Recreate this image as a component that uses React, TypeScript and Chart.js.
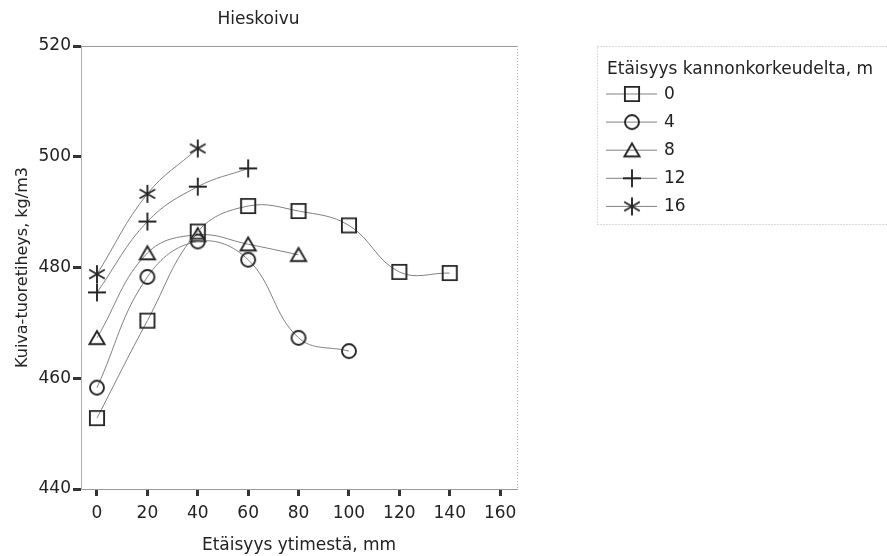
import React, { useEffect, useRef } from 'react';
import { Chart, registerables } from 'chart.js';

Chart.register(...registerables);

// ---- data ----
const chartTitle = 'Hieskoivu';
const xAxisTitle = 'Etäisyys ytimestä, mm';
const yAxisTitle = 'Kuiva-tuoretiheys, kg/m3';
const legendTitle = 'Etäisyys kannonkorkeudelta, m';
const seriesLabels = ['0', '4', '8', '12', '16'];
const distances = [0, 20, 40, 60, 80, 100, 120, 140];
const density0 = [452.8, 470.4, 486.5, 491.1, 490.2, 487.6, 479.2, 479.0];
const density4 = [458.3, 478.3, 484.7, 481.4, 467.3, 464.9];
const density8 = [467.3, 482.6, 485.9, 484.2, 482.3];
const density12 = [475.5, 488.3, 494.6, 497.9];
const density16 = [478.8, 493.3, 501.5];
const xTicks = [0, 20, 40, 60, 80, 100, 120, 140, 160];
const yTicks = [440, 460, 480, 500, 520];
const markerKinds = ['square', 'circle', 'triangle', 'plus', 'star'];

// ---- styles ----
const FONT = 'DejaVu Sans';
const TEXT = '#222222';
const LINE = '#808080';
const MARK = '#262626';

function makeMarker(kind: string): HTMLCanvasElement {
  const c = document.createElement('canvas');
  c.width = 22;
  c.height = 22;
  const g = c.getContext('2d')!;
  const m = 11;
  g.strokeStyle = MARK;
  g.lineWidth = 1.9;
  g.beginPath();
  if (kind === 'square') {
    g.rect(m - 7.1, m - 7.1, 14.2, 14.2);
  } else if (kind === 'circle') {
    g.arc(m, m, 7.0, 0, Math.PI * 2);
  } else if (kind === 'triangle') {
    g.moveTo(m, m - 6.8);
    g.lineTo(m + 7.6, m + 6.3);
    g.lineTo(m - 7.6, m + 6.3);
    g.closePath();
  } else if (kind === 'plus') {
    g.moveTo(m - 9, m);
    g.lineTo(m + 9, m);
    g.moveTo(m, m - 9);
    g.lineTo(m, m + 9);
  } else if (kind === 'star') {
    g.moveTo(m, m - 9);
    g.lineTo(m, m + 9);
    for (const a of [Math.PI / 6, -Math.PI / 6]) {
      const dx = Math.cos(a) * 9;
      const dy = Math.sin(a) * 9;
      g.moveTo(m - dx, m - dy);
      g.lineTo(m + dx, m + dy);
    }
  }
  g.stroke();
  return c;
}

export default function App() {
  const ref = useRef<HTMLCanvasElement>(null);

  useEffect(() => {
    const canvas = ref.current!;
    const markers = markerKinds.map(makeMarker);
    const seriesValues = [density0, density4, density8, density12, density16];

    const datasets = seriesValues.map((vals, i) => ({
      label: seriesLabels[i],
      data: vals.map((v, j) => ({ x: distances[j], y: v })),
      borderColor: LINE,
      borderWidth: 1,
      tension: 0.4,
      fill: false,
      pointStyle: markers[i] as any,
      pointRadius: 8,
      pointHoverRadius: 8,
      pointBackgroundColor: 'rgba(0,0,0,0)',
      pointBorderColor: MARK,
    }));

    const framePlugin = {
      id: 'frame',
      afterDraw(chart: any) {
        const { ctx, chartArea: a } = chart;
        ctx.save();
        ctx.lineWidth = 1;
        ctx.strokeStyle = '#9a9a9a';
        ctx.beginPath();
        ctx.moveTo(a.left, a.top + 0.5);
        ctx.lineTo(a.right, a.top + 0.5);
        ctx.stroke();
        ctx.strokeStyle = '#b0b0b0';
        ctx.setLineDash([1, 2]);
        ctx.beginPath();
        ctx.moveTo(a.right + 0.5, a.top);
        ctx.lineTo(a.right + 0.5, a.bottom);
        ctx.stroke();
        ctx.restore();
      },
    };

    const legendPlugin = {
      id: 'customLegend',
      afterDraw(chart: any) {
        const ctx = chart.ctx;
        ctx.save();
        ctx.strokeStyle = '#b5b5b5';
        ctx.lineWidth = 1;
        ctx.setLineDash([1, 2]);
        ctx.strokeRect(597.5, 46.5, 300, 178);
        ctx.setLineDash([]);
        ctx.fillStyle = TEXT;
        ctx.font = `17px "${FONT}"`;
        ctx.textBaseline = 'middle';
        ctx.textAlign = 'left';
        ctx.fillText(legendTitle, 607, 70);
        chart.data.datasets.forEach((ds: any, i: number) => {
          const y = 94 + i * 28.1;
          ctx.strokeStyle = LINE;
          ctx.lineWidth = 1;
          ctx.beginPath();
          ctx.moveTo(606, y);
          ctx.lineTo(657, y);
          ctx.stroke();
          const mk = markers[i];
          ctx.drawImage(mk, 632 - mk.width / 2, y - mk.height / 2);
          ctx.fillStyle = TEXT;
          ctx.fillText(ds.label, 664, y + 0.5);
        });
        ctx.restore();
      },
    };

    const tickFont = { family: FONT, size: 17 };

    const chart = new Chart(canvas, {
      type: 'line',
      data: { datasets: datasets as any },
      options: {
        animation: false,
        responsive: false,
        devicePixelRatio: 1,
        layout: { padding: { top: 0, right: 370, left: 0, bottom: 0 } },
        plugins: {
          legend: { display: false },
          tooltip: { enabled: false },
          title: {
            display: true,
            text: chartTitle,
            color: TEXT,
            font: { family: FONT, size: 17, weight: 'normal' },
            padding: { top: 9.5, bottom: 16.1 },
          },
        },
        scales: {
          x: {
            type: 'linear',
            position: 'bottom',
            min: -6.35,
            max: 166.7,
            afterBuildTicks: (s: any) => {
              s.ticks = xTicks.map((v) => ({ value: v }));
            },
            afterFit: (s: any) => {
              s.height = 67;
            },
            grid: {
              drawOnChartArea: false,
              drawTicks: true,
              tickLength: 7,
              tickWidth: 3,
              tickColor: '#333',
            },
            border: { display: true, color: '#9a9a9a', width: 1 },
            ticks: {
              font: tickFont,
              color: TEXT,
              padding: 7,
              maxRotation: 0,
              autoSkip: false,
            },
            title: {
              display: true,
              text: xAxisTitle,
              color: TEXT,
              font: tickFont,
              padding: { top: 0, bottom: 0 },
            },
          },
          y: {
            type: 'linear',
            min: 440,
            max: 520,
            afterBuildTicks: (s: any) => {
              s.ticks = yTicks.map((v) => ({ value: v }));
            },
            afterFit: (s: any) => {
              s.width = 81;
            },
            grid: {
              drawOnChartArea: false,
              drawTicks: true,
              tickLength: 8,
              tickWidth: 3,
              tickColor: '#333',
            },
            border: { display: true, color: '#b0b0b0', width: 1, dash: [1, 2] },
            ticks: {
              font: tickFont,
              color: TEXT,
              padding: 2,
              autoSkip: false,
            },
            title: {
              display: true,
              text: yAxisTitle,
              color: TEXT,
              font: { family: FONT, size: 16 },
              padding: { top: 13, bottom: 0 },
            },
          },
        },
      } as any,
      plugins: [framePlugin, legendPlugin],
    });

    return () => chart.destroy();
  }, []);

  return (
    <div style={{ position: 'absolute', left: 0, top: 0, width: 887, height: 556 }}>
      <canvas ref={ref} width={887} height={556} style={{ display: 'block' }} />
    </div>
  );
}
